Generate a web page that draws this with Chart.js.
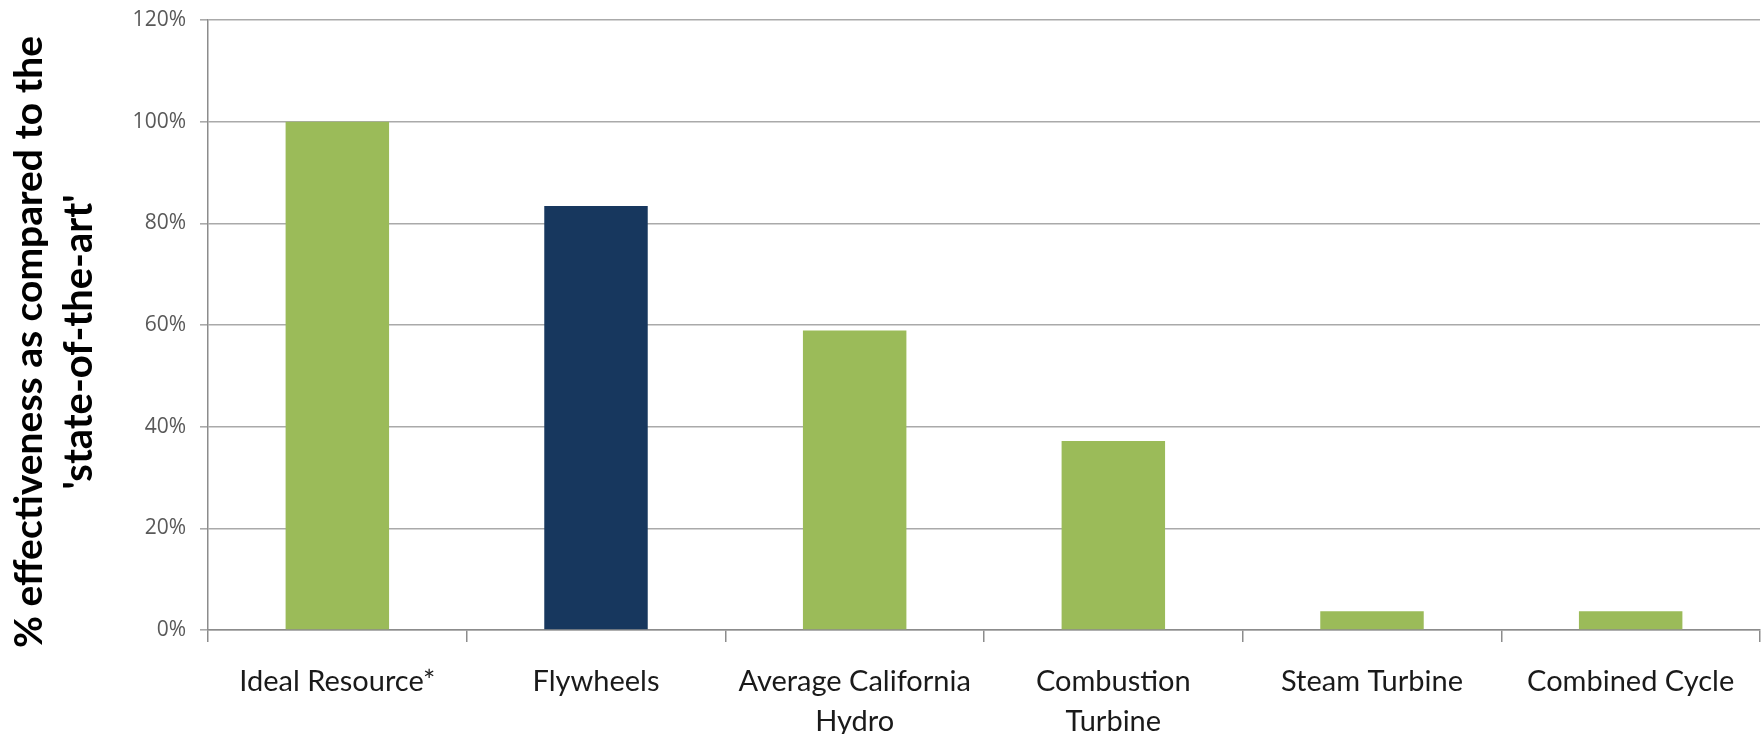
<!DOCTYPE html>
<html>
<head>
<meta charset="utf-8">
<title>Effectiveness compared to the state of the art</title>
<script src="https://cdn.jsdelivr.net/npm/chart.js@4.4.1/dist/chart.umd.min.js"></script>
<style>
  html, body { margin: 0; padding: 0; background: #ffffff; }
  #wrap { position: relative; width: 1763px; height: 734px; }
</style>
</head>
<body>
<div id="wrap"><canvas id="chart"></canvas></div>
<script>
// Resource categories (multi-line where the label wraps)
const categories = [
  'Ideal Resource*',
  'Flywheels',
  ['Average California', 'Hydro'],
  ['Combustion', 'Turbine'],
  'Steam Turbine',
  'Combined Cycle'
];

// Effectiveness relative to the state of the art, in percent
const effectiveness = [100, 83.4, 58.9, 37.2, 3.7, 3.7];

// Flywheels are highlighted in navy, every other resource in green
const barColors = ['#9BBB59', '#17375E', '#9BBB59', '#9BBB59', '#9BBB59', '#9BBB59'];

// Y-axis tick values (percent)
const yTicks = [0, 20, 40, 60, 80, 100, 120];

// Two-line axis title
const yTitleLines = ['% effectiveness as compared to the', "'state-of-the-art'"];

// Draws the rotated two-line axis title on the left edge
const sideTitle = {
  id: 'sideTitle',
  afterDraw(chart) {
    const ctx = chart.ctx;
    ctx.save();
    ctx.translate(42, 342);
    ctx.rotate(-Math.PI / 2);
    ctx.fillStyle = '#000000';
    ctx.font = 'bold 39px Lato';
    ctx.textAlign = 'center';
    ctx.textBaseline = 'alphabetic';
    ctx.fillText(yTitleLines[0], 0, 0);
    ctx.font = 'bold 40px Lato';
    ctx.fillText(yTitleLines[1], 0, 50);
    ctx.restore();
  }
};

new Chart(document.getElementById('chart'), {
  type: 'bar',
  data: {
    labels: categories,
    datasets: [{
      data: effectiveness,
      backgroundColor: barColors,
      borderWidth: 0,
      barPercentage: 0.4,
      categoryPercentage: 1.0
    }]
  },
  options: {
    responsive: true,
    maintainAspectRatio: false,
    animation: false,
    layout: { padding: { top: 20, right: 3, bottom: 0, left: 0 } },
    plugins: {
      legend: { display: false },
      tooltip: { enabled: false }
    },
    scales: {
      x: {
        grid: {
          drawOnChartArea: false,
          drawTicks: true,
          tickLength: 12,
          color: '#8c8c8c',
          lineWidth: 1.5
        },
        border: { color: '#8c8c8c', width: 1.5 },
        ticks: {
          color: '#1a1a1a',
          font: { family: 'Lato', size: 29, lineHeight: 1.4 },
          padding: 19,
          maxRotation: 0,
          autoSkip: false
        },
        afterFit(scale) { scale.height = 104; }
      },
      y: {
        min: 0,
        max: 120,
        afterBuildTicks(scale) { scale.ticks = yTicks.map(v => ({ value: v })); },
        grid: {
          color: '#aaaaaa',
          lineWidth: 1.6,
          drawTicks: true,
          tickLength: 8
        },
        border: { color: '#8c8c8c', width: 1.5 },
        ticks: {
          color: '#595959',
          font: { family: 'Open Sans', size: 21 },
          padding: 14,
          callback: v => v + '%'
        },
        afterFit(scale) {
          scale.width = 208;
          scale.paddingTop = 0;
          scale.paddingBottom = 0;
        }
      }
    }
  },
  plugins: [sideTitle]
});
</script>
</body>
</html>
